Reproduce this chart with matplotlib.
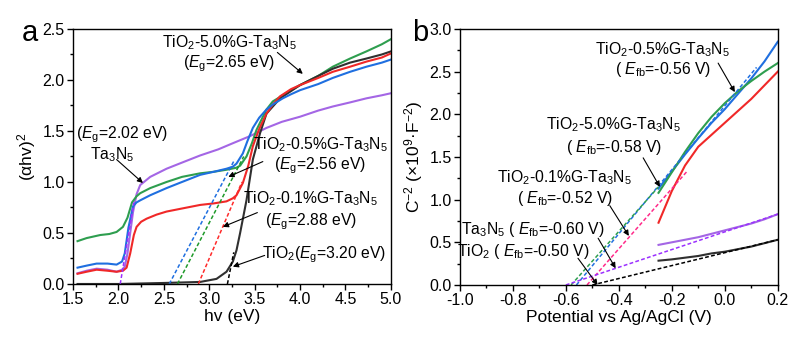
import numpy as np
import matplotlib.pyplot as plt
from matplotlib.ticker import MultipleLocator

plt.rcParams['font.family'] = ['Liberation Sans', 'DejaVu Sans']
plt.rcParams['mathtext.fontset'] = 'custom'
plt.rcParams['mathtext.rm'] = 'Liberation Sans'
plt.rcParams['mathtext.it'] = 'Liberation Sans:italic'
plt.rcParams['axes.unicode_minus'] = False

# ---- (a) Tauc plot: (ahv)^2 vs hv ----
hv_tio2 = [1.55, 2.0, 2.5, 2.9, 3.08, 3.19, 3.26, 3.3, 3.34, 3.41, 3.48, 3.56, 3.63,
           3.78, 4.0, 4.2, 4.36, 4.55, 4.73, 4.9, 5.0]
v_tio2 = [0.0, 0.0, 0.01, 0.02, 0.05, 0.12, 0.22, 0.33, 0.5, 0.82, 1.22, 1.48, 1.67,
          1.82, 1.95, 2.04, 2.11, 2.17, 2.21, 2.25, 2.28]

hv_g01 = [1.55, 1.65, 1.76, 1.88, 1.98, 2.05, 2.09, 2.13, 2.17, 2.2, 2.25, 2.31,
          2.42, 2.53, 2.7, 2.9, 3.05, 3.19, 3.26, 3.3, 3.37, 3.43, 3.48, 3.55,
          3.63, 3.7, 3.78, 3.9, 4.0, 4.2, 4.36, 4.55, 4.73, 4.9, 5.0]
v_g01 = [0.1, 0.12, 0.14, 0.13, 0.12, 0.13, 0.16, 0.3, 0.48, 0.56, 0.61, 0.64,
         0.68, 0.71, 0.74, 0.775, 0.79, 0.81, 0.84, 0.87, 0.99, 1.16, 1.35, 1.52,
         1.67, 1.76, 1.84, 1.91, 1.95, 2.02, 2.08, 2.13, 2.18, 2.22, 2.26]

hv_g05 = [1.55, 1.65, 1.76, 1.88, 1.98, 2.04, 2.07, 2.11, 2.16, 2.2, 2.24, 2.35,
          2.53, 2.7, 2.9, 3.05, 3.19, 3.26, 3.3, 3.37, 3.42, 3.48, 3.55, 3.63,
          3.7, 3.81, 3.9, 4.0, 4.2, 4.36, 4.55, 4.73, 4.9, 5.0]
v_g05 = [0.16, 0.18, 0.2, 0.2, 0.19, 0.22, 0.3, 0.55, 0.76, 0.8, 0.82, 0.87,
         0.94, 1.0, 1.07, 1.1, 1.13, 1.15, 1.18, 1.28, 1.4, 1.53, 1.63, 1.71,
         1.76, 1.82, 1.86, 1.9, 1.96, 2.02, 2.08, 2.13, 2.17, 2.2]

hv_g50 = [1.55, 1.65, 1.8, 1.9, 1.98, 2.05, 2.1, 2.15, 2.2, 2.24, 2.35, 2.53,
          2.7, 2.9, 3.05, 3.19, 3.3, 3.34, 3.41, 3.47, 3.52, 3.58, 3.63, 3.7,
          3.81, 3.9, 4.0, 4.2, 4.36, 4.55, 4.73, 4.9, 5.0]
v_g50 = [0.42, 0.45, 0.48, 0.49, 0.51, 0.56, 0.65, 0.8, 0.86, 0.89, 0.94, 1.0,
         1.05, 1.085, 1.1, 1.12, 1.14, 1.16, 1.25, 1.38, 1.51, 1.62, 1.71, 1.79,
         1.85, 1.9, 1.95, 2.04, 2.13, 2.21, 2.28, 2.35, 2.4]

hv_ta3n5 = [1.55, 1.65, 1.76, 1.88, 1.98, 2.04, 2.07, 2.1, 2.13, 2.16, 2.2, 2.24,
            2.35, 2.53, 2.7, 2.9, 3.1, 3.26, 3.45, 3.63, 3.8, 4.0, 4.2, 4.36,
            4.55, 4.73, 4.9, 5.0]
v_ta3n5 = [0.105, 0.13, 0.15, 0.14, 0.12, 0.14, 0.17, 0.3, 0.5, 0.7, 0.88, 0.97,
           1.05, 1.13, 1.19, 1.26, 1.32, 1.38, 1.45, 1.53, 1.59, 1.64, 1.7, 1.74,
           1.78, 1.82, 1.85, 1.87]

# band gaps (x-intercepts of the tangent lines) and where each tangent ends
eg_vals = [2.02, 2.56, 2.65, 2.88, 3.20]
tan_top_hv = [2.17, 3.28, 3.38, 3.36, 3.27]
tan_top_v = [0.8, 1.22, 1.25, 1.0, 0.31]

# ---- (b) Mott-Schottky: C^-2 vs potential ----
pot = [-0.25, -0.2, -0.15, -0.1, -0.05, 0.0, 0.05, 0.1, 0.15, 0.2]
c_g05 = [1.13, 1.33, 1.53, 1.72, 1.9, 2.06, 2.24, 2.42, 2.62, 2.85]
c_g50 = [1.08, 1.32, 1.56, 1.78, 1.97, 2.13, 2.27, 2.39, 2.5, 2.6]
c_g01 = [0.73, 1.1, 1.4, 1.62, 1.76, 1.9, 2.04, 2.18, 2.34, 2.5]
c_ta3n5 = [0.47, 0.5, 0.53, 0.56, 0.6, 0.64, 0.68, 0.72, 0.77, 0.83]
c_tio2 = [0.285, 0.3, 0.32, 0.34, 0.37, 0.39, 0.42, 0.45, 0.49, 0.53]

# flat-band potentials and tangent end points
efb_vals = [-0.56, -0.58, -0.52, -0.60, -0.50]
efb_top_pot = [0.12, -0.25, -0.14, 0.2, 0.2]
efb_top_c = [2.55, 1.15, 1.34, 0.83, 0.53]

BLUE = '#1f6fe0'
GREEN = '#2e9e4f'
RED = '#f02828'
PURPLE = '#a466e5'
BLACK = '#303030'

fig = plt.figure(figsize=(8.11, 3.47), dpi=100)
ax1 = fig.add_axes([0.090, 0.1816, 0.392, 0.7349])
ax2 = fig.add_axes([0.567, 0.1787, 0.392, 0.7378])

lw = 1.5
ax1.plot(hv_ta3n5, v_ta3n5, color=PURPLE, lw=lw)
ax1.plot(hv_g50, v_g50, color=GREEN, lw=lw)
ax1.plot(hv_tio2, v_tio2, color=BLACK, lw=lw)
ax1.plot(hv_g01, v_g01, color=RED, lw=lw)
ax1.plot(hv_g05, v_g05, color=BLUE, lw=lw)

tan_cols = ['#9b30ff', BLUE, '#1f9a2a', '#ff2a2a', 'black']
for eg, xe, ye, c in zip(eg_vals, tan_top_hv, tan_top_v, tan_cols):
    ax1.plot([eg, xe], [0, ye], color=c, lw=1.1, ls=(0, (2.5, 1.5)))

ax1.set_xlim(1.5, 5.0)
ax1.set_ylim(0, 2.5)
ax1.xaxis.set_major_locator(MultipleLocator(0.5))
ax1.xaxis.set_minor_locator(MultipleLocator(0.25))
ax1.yaxis.set_major_locator(MultipleLocator(0.5))
ax1.yaxis.set_minor_locator(MultipleLocator(0.25))
ax1.set_xlabel('hv (eV)', fontsize=12.5, labelpad=1)
ax1.set_ylabel('(αhv)$^2$', fontsize=12.5, labelpad=3)

ax2.plot(pot, c_g05, color=BLUE, lw=lw)
ax2.plot(pot, c_g50, color=GREEN, lw=lw)
ax2.plot(pot, c_g01, color=RED, lw=lw)
ax2.plot(pot, c_ta3n5, color=PURPLE, lw=lw)
ax2.plot(pot, c_tio2, color=BLACK, lw=lw)

efb_cols = [BLUE, GREEN, '#ff2a8a', '#9b30ff', 'black']
for ef, xe, ye, c in zip(efb_vals, efb_top_pot, efb_top_c, efb_cols):
    ax2.plot([ef, xe], [0, ye], color=c, lw=1.1, ls=(0, (2.5, 1.5)))

ax2.set_xlim(-1.0, 0.2)
ax2.set_ylim(0, 3.0)
ax2.xaxis.set_major_locator(MultipleLocator(0.2))
ax2.xaxis.set_minor_locator(MultipleLocator(0.1))
ax2.yaxis.set_major_locator(MultipleLocator(0.5))
ax2.yaxis.set_minor_locator(MultipleLocator(0.25))
ax2.set_xlabel('Potential vs Ag/AgCl (V)', fontsize=12.5, labelpad=1)
ax2.set_ylabel('C$^{-2}$ (×10$^9$·F$^{-2}$)', fontsize=12.5, labelpad=3)

for ax in (ax1, ax2):
    ax.tick_params(which='major', direction='out', length=4, width=1,
                   labelsize=11.5, pad=2, top=False, right=False)
    ax.tick_params(which='minor', direction='out', length=2, width=1,
                   top=False, right=False)
    for s in ax.spines.values():
        s.set_linewidth(1)

arrow = dict(arrowstyle='-|>', color='black', lw=0.8, mutation_scale=8,
             shrinkA=0, shrinkB=0)
fs = 11.3

# labels for panel a
ax1.text(3.22, 2.26, 'TiO$_2$-5.0%G-Ta$_3$N$_5$\n($E_\\mathrm{g}$=2.65 eV)',
         ha='center', va='center', fontsize=fs, linespacing=1.1)
ax1.annotate('', xy=(4.03, 2.06), xytext=(3.75, 2.27), arrowprops=arrow)
ax1.text(2.04, 1.46, '($E_\\mathrm{g}$=2.02 eV)', ha='center', va='center', fontsize=fs)
ax1.text(1.93, 1.27, 'Ta$_3$N$_5$', ha='center', va='center', fontsize=fs)
ax1.annotate('', xy=(2.27, 0.99), xytext=(1.98, 1.22), arrowprops=arrow)
ax1.text(4.22, 1.26, 'TiO$_2$-0.5%G-Ta$_3$N$_5$\n($E_\\mathrm{g}$=2.56 eV)',
         ha='center', va='center', fontsize=fs, linespacing=1.1)
ax1.annotate('', xy=(3.21, 1.05), xytext=(3.59, 1.2), arrowprops=arrow)
ax1.text(4.12, 0.72, 'TiO$_2$-0.1%G-Ta$_3$N$_5$\n($E_\\mathrm{g}$=2.88 eV)',
         ha='center', va='center', fontsize=fs, linespacing=1.3)
ax1.annotate('', xy=(3.15, 0.56), xytext=(3.53, 0.7), arrowprops=arrow)
ax1.text(4.27, 0.29, 'TiO$_2$($E_\\mathrm{g}$=3.20 eV)', ha='center', va='center', fontsize=fs)
ax1.annotate('', xy=(3.26, 0.17), xytext=(3.61, 0.28), arrowprops=arrow)

# labels for panel b
ax2.text(-0.234, 2.64, 'TiO$_2$-0.5%G-Ta$_3$N$_5$\n( $E_\\mathrm{fb}$=-0.56 V)',
         ha='center', va='center', fontsize=fs, linespacing=1.1)
ax2.annotate('', xy=(0.038, 2.26), xytext=(-0.025, 2.6), arrowprops=arrow)
ax2.text(-0.419, 1.74, 'TiO$_2$-5.0%G-Ta$_3$N$_5$\n( $E_\\mathrm{fb}$=-0.58 V)',
         ha='center', va='center', fontsize=fs, linespacing=1.3)
ax2.annotate('', xy=(-0.245, 1.15), xytext=(-0.308, 1.49), arrowprops=arrow)
ax2.text(-0.604, 1.135, 'TiO$_2$-0.1%G-Ta$_3$N$_5$\n( $E_\\mathrm{fb}$=-0.52 V)',
         ha='center', va='center', fontsize=fs, linespacing=1.1)
ax2.annotate('', xy=(-0.362, 0.575), xytext=(-0.434, 0.93), arrowprops=arrow)
ax2.text(-0.723, 0.646, 'Ta$_3$N$_5$ ( $E_\\mathrm{fb}$=-0.60 V)',
         ha='center', va='center', fontsize=fs)
ax2.annotate('', xy=(-0.412, 0.196), xytext=(-0.478, 0.548), arrowprops=arrow)
ax2.text(-0.761, 0.391, 'TiO$_2$ ( $E_\\mathrm{fb}$=-0.50 V)',
         ha='center', va='center', fontsize=fs)
ax2.annotate('', xy=(-0.48, 0.0), xytext=(-0.554, 0.313), arrowprops=arrow)

fig.text(0.037, 0.905, 'a', fontsize=21, ha='center', va='center')
fig.text(0.518, 0.905, 'b', fontsize=21, ha='center', va='center')

fig.savefig('out.png', dpi=100)
